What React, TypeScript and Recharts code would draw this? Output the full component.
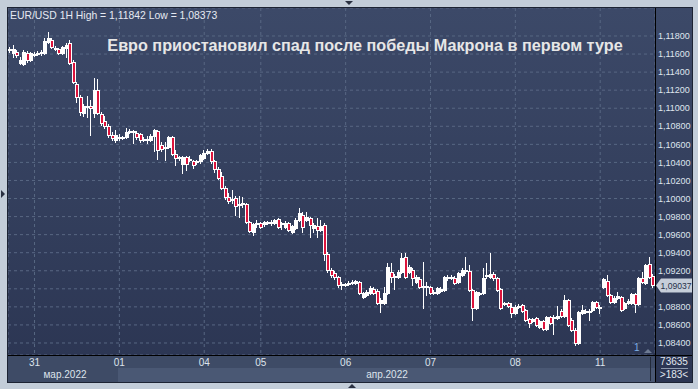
import React from 'react';
import { ComposedChart, Bar, XAxis, YAxis, CartesianGrid, ReferenceLine } from 'recharts';

// EUR/USD 1H candles
const opens = [
  1.1165, 1.1161, 1.1162, 1.1150, 1.1149, 1.1161, 1.1153, 1.1159, 1.1160, 1.1161,
  1.1161, 1.1173, 1.1176, 1.1167, 1.1166, 1.1161, 1.1167, 1.1172, 1.1151, 1.1127,
  1.1112, 1.1095, 1.1101, 1.1103, 1.1095, 1.1120, 1.1094, 1.1086, 1.1080, 1.1070,
  1.1065, 1.1067, 1.1067, 1.1068, 1.1074, 1.1075, 1.1073, 1.1072, 1.1066, 1.1065,
  1.1065, 1.1069, 1.1075, 1.1059, 1.1056, 1.1057, 1.1068, 1.1049, 1.1045, 1.1038,
  1.1046, 1.1043, 1.1042, 1.1041, 1.1041, 1.1045, 1.1050, 1.1053, 1.1041, 1.1033,
  1.1025, 1.1012, 1.1002, 1.0998, 1.1001, 1.0993, 1.0994, 1.0994, 1.0974, 1.0963,
  1.0972, 1.0973, 1.0972, 1.0974, 1.0973, 1.0973, 1.0977, 1.0972, 1.0969, 1.0973,
  1.0963, 1.0967, 1.0976, 1.0982, 1.0976, 1.0978, 1.0967, 1.0970, 1.0965, 1.0971,
  1.0939, 1.0921, 1.0918, 1.0913, 1.0904, 1.0905, 1.0905, 1.0906, 1.0906, 1.0908,
  1.0891, 1.0893, 1.0895, 1.0900, 1.0898, 1.0884, 1.0884, 1.0895, 1.0919, 1.0913,
  1.0913, 1.0919, 1.0935, 1.0919, 1.0921, 1.0908, 1.0911, 1.0902, 1.0903, 1.0902,
  1.0895, 1.0895, 1.0898, 1.0899, 1.0912, 1.0912, 1.0912, 1.0908, 1.0915, 1.0920,
  1.0920, 1.0899, 1.0879, 1.0895, 1.0895, 1.0914, 1.0913, 1.0916, 1.0912, 1.0900,
  1.0883, 1.0884, 1.0880, 1.0873, 1.0881, 1.0882, 1.0877, 1.0867, 1.0864, 1.0868,
  1.0858, 1.0864, 1.0856, 1.0869, 1.0868, 1.0868, 1.0875, 1.0870, 1.0888, 1.0866,
  1.0854, 1.0840, 1.0873, 1.0875, 1.0874, 1.0877, 1.0885, 1.0879, 1.0902, 1.0909,
  1.0893, 1.0885, 1.0890, 1.0891, 1.0879, 1.0884, 1.0884, 1.0894, 1.0883, 1.0912,
  1.0906, 1.0928, 1.0914,
];
const highs = [
  1.1168, 1.1170, 1.1165, 1.1157, 1.1165, 1.1163, 1.1162, 1.1162, 1.1163, 1.1165,
  1.1178, 1.11842, 1.1178, 1.1169, 1.1167, 1.1169, 1.1172, 1.1176, 1.1153, 1.1129,
  1.1115, 1.1105, 1.1114, 1.1109, 1.1134, 1.1132, 1.1096, 1.1091, 1.1083, 1.1074,
  1.1076, 1.1072, 1.1069, 1.1078, 1.1077, 1.1076, 1.1075, 1.1073, 1.1068, 1.1069,
  1.1072, 1.1077, 1.1076, 1.1063, 1.1063, 1.1069, 1.1069, 1.1054, 1.1047, 1.1047,
  1.1047, 1.1047, 1.1043, 1.1043, 1.1049, 1.1054, 1.1055, 1.1055, 1.1043, 1.1035,
  1.1029, 1.1014, 1.1006, 1.1009, 1.1003, 1.1003, 1.1002, 1.0995, 1.0975, 1.0973,
  1.0976, 1.0974, 1.0975, 1.0975, 1.0976, 1.0977, 1.0978, 1.0974, 1.0975, 1.0974,
  1.0971, 1.0978, 1.0990, 1.0985, 1.0985, 1.0980, 1.0973, 1.0978, 1.0976, 1.0973,
  1.0941, 1.0923, 1.0920, 1.0914, 1.0908, 1.0906, 1.0909, 1.0910, 1.0910, 1.0909,
  1.0897, 1.0899, 1.0903, 1.0902, 1.0900, 1.0890, 1.0902, 1.0929, 1.0929, 1.0916,
  1.0921, 1.0940, 1.0940, 1.0926, 1.0923, 1.0915, 1.0913, 1.0930, 1.0908, 1.0903,
  1.0899, 1.0902, 1.0902, 1.0914, 1.0915, 1.0915, 1.0914, 1.0919, 1.0923, 1.0935,
  1.0926, 1.0900, 1.0898, 1.0897, 1.0923, 1.0929, 1.0940, 1.0919, 1.0913, 1.0901,
  1.0885, 1.0885, 1.0884, 1.0882, 1.0883, 1.0883, 1.0878, 1.0868, 1.0868, 1.0869,
  1.0866, 1.0866, 1.0870, 1.0870, 1.0871, 1.0881, 1.0878, 1.0893, 1.0889, 1.0868,
  1.0857, 1.0875, 1.0882, 1.0878, 1.0878, 1.0886, 1.0886, 1.0882, 1.0912, 1.0915,
  1.0894, 1.0892, 1.0897, 1.0892, 1.0885, 1.0889, 1.0895, 1.0895, 1.0913, 1.0919,
  1.0928, 1.0935, 1.0916,
];
const lows = [
  1.1162, 1.1157, 1.1157, 1.1149, 1.1148, 1.1151, 1.1152, 1.1158, 1.1159, 1.1159,
  1.1160, 1.1172, 1.1167, 1.1165, 1.1160, 1.1160, 1.1157, 1.1149, 1.1128, 1.1107,
  1.1093, 1.1091, 1.1090, 1.1070, 1.1090, 1.1094, 1.1081, 1.1078, 1.1068, 1.1065,
  1.1063, 1.1065, 1.1066, 1.1067, 1.1073, 1.1062, 1.1066, 1.1063, 1.1064, 1.1062,
  1.1064, 1.1053, 1.1044, 1.1053, 1.1043, 1.1056, 1.1048, 1.1037, 1.1043, 1.1028,
  1.1032, 1.1041, 1.1034, 1.1038, 1.1039, 1.1044, 1.1049, 1.1039, 1.1029, 1.1022,
  1.1011, 1.1000, 1.0995, 1.0995, 1.0982, 1.0980, 1.0991, 1.0973, 1.0963, 1.0960,
  1.0969, 1.0967, 1.0970, 1.0972, 1.0971, 1.0972, 1.0967, 1.0966, 1.0967, 1.0964,
  1.0962, 1.0966, 1.0975, 1.0963, 1.0975, 1.0957, 1.0963, 1.0957, 1.0964, 1.0932,
  1.0919, 1.0913, 1.0911, 1.0902, 1.0900, 1.0903, 1.0904, 1.0905, 1.0905, 1.0894,
  1.0890, 1.0892, 1.0894, 1.0894, 1.0883, 1.0874, 1.0883, 1.0894, 1.0908, 1.0900,
  1.0912, 1.0918, 1.0912, 1.0918, 1.0904, 1.0906, 1.0901, 1.0879, 1.0893, 1.0894,
  1.0894, 1.0894, 1.0897, 1.0898, 1.0910, 1.0911, 1.0905, 1.0906, 1.0914, 1.0918,
  1.0898, 1.0866, 1.0878, 1.0893, 1.0894, 1.0912, 1.0912, 1.0910, 1.0898, 1.0878,
  1.0882, 1.0880, 1.0869, 1.0872, 1.0879, 1.0874, 1.0864, 1.0858, 1.0863, 1.0859,
  1.0857, 1.0854, 1.0854, 1.0861, 1.0850, 1.0867, 1.0869, 1.0869, 1.0859, 1.0853,
  1.08373, 1.0839, 1.0872, 1.0873, 1.0866, 1.0875, 1.0879, 1.0873, 1.0901, 1.0892,
  1.0884, 1.0884, 1.0889, 1.0875, 1.0878, 1.0883, 1.0883, 1.0874, 1.0882, 1.0906,
  1.0905, 1.0912, 1.0902,
];
const closes = [
  1.1166, 1.1166, 1.1159, 1.1153, 1.1162, 1.1153, 1.1161, 1.1160, 1.1161, 1.1162,
  1.1174, 1.1178, 1.1168, 1.1166, 1.1161, 1.1168, 1.1170, 1.1150, 1.1129, 1.1112,
  1.1096, 1.1103, 1.1103, 1.1100, 1.1120, 1.1095, 1.1084, 1.1080, 1.1070, 1.1067,
  1.1070, 1.1068, 1.1068, 1.1074, 1.1075, 1.1074, 1.1068, 1.1065, 1.1065, 1.1066,
  1.1069, 1.1076, 1.1054, 1.1055, 1.1057, 1.1068, 1.1049, 1.1045, 1.1046, 1.1046,
  1.1038, 1.1044, 1.1037, 1.1042, 1.1048, 1.1050, 1.1053, 1.1041, 1.1033, 1.1023,
  1.1012, 1.1002, 1.0997, 1.1000, 1.0992, 1.0994, 1.0995, 1.0974, 1.0964, 1.0972,
  1.0973, 1.0969, 1.0974, 1.0973, 1.0974, 1.0976, 1.0969, 1.0973, 1.0973, 1.0965,
  1.0970, 1.0976, 1.0984, 1.0969, 1.0980, 1.0971, 1.0971, 1.0965, 1.0970, 1.0939,
  1.0921, 1.0915, 1.0913, 1.0904, 1.0905, 1.0904, 1.0906, 1.0908, 1.0909, 1.0895,
  1.0895, 1.0897, 1.0901, 1.0895, 1.0884, 1.0888, 1.0895, 1.0924, 1.0913, 1.0914,
  1.0919, 1.0934, 1.0913, 1.0924, 1.0912, 1.0913, 1.0902, 1.0903, 1.0902, 1.0895,
  1.0897, 1.0901, 1.0900, 1.0913, 1.0913, 1.0913, 1.0906, 1.0918, 1.0921, 1.0921,
  1.0899, 1.0879, 1.0897, 1.0894, 1.0912, 1.0915, 1.0916, 1.0912, 1.0899, 1.0879,
  1.0884, 1.0881, 1.0873, 1.0880, 1.0880, 1.0875, 1.0866, 1.0862, 1.0867, 1.0860,
  1.0864, 1.0856, 1.0869, 1.0862, 1.0869, 1.0870, 1.0870, 1.0888, 1.0860, 1.0854,
  1.0840, 1.0874, 1.0877, 1.0874, 1.0875, 1.0885, 1.0880, 1.0880, 1.0911, 1.0893,
  1.0885, 1.0890, 1.0892, 1.0877, 1.0884, 1.0887, 1.0894, 1.0883, 1.0912, 1.0908,
  1.0926, 1.0913, 1.09037,
];

const dayTicks = [7, 31, 55, 71, 95, 119, 143, 167];
const dayLabels = ['31', '01', '04', '05', '06', '07', '08', '11'];
const monthLabels = ['мар.2022', 'апр.2022'];
const priceTicks = [
  1.084, 1.086, 1.088, 1.09, 1.092, 1.094, 1.096, 1.098, 1.1,
  1.102, 1.104, 1.106, 1.108, 1.11, 1.112, 1.114, 1.116, 1.118,
];

const data = opens.map((o, i) => ({
  idx: i,
  o,
  h: highs[i],
  l: lows[i],
  c: closes[i],
  range: [lows[i], highs[i]],
}));

const lastClose = closes[closes.length - 1];
const fmt = (v: number) => v.toFixed(5).replace('.', ',');
// the 1,09000 label sits under the last-price tag
const fmtTick = (v: number) => (Math.abs(v - lastClose) < 0.0008 ? '' : fmt(v));
const FONT = '"Liberation Sans", Arial, sans-serif';
const RED = '#dc143c';

const Candle = (props: any) => {
  const { x, y, width, height, payload } = props;
  if (x == null || !payload) return null;
  const { o, h, l, c } = payload;
  const top = Math.min(y, y + height);
  const span = Math.abs(height);
  const py = (p: number) => (h === l ? top : top + ((h - p) / (h - l)) * span);
  const cx = Math.round(x + width / 2);
  const up = c >= o;
  const bTop = Math.round(py(Math.max(o, c)));
  const bBot = Math.round(py(Math.min(o, c)));
  return (
    <g>
      <line x1={cx - 0.5} x2={cx - 0.5} y1={Math.round(top)} y2={Math.round(top + span) + 1} stroke="#ffffff" />
      <rect
        x={cx - 1.5}
        y={bTop + 0.5}
        width={3}
        height={Math.max(bBot - bTop, 1)}
        fill={up ? '#ffffff' : RED}
        stroke="#ffffff"
      />
    </g>
  );
};

const PriceTag = (props: any) => {
  const vb = props.viewBox;
  if (!vb) return null;
  const x0 = vb.x + vb.width + 1;
  const y0 = Math.round(vb.y) + 0.5;
  return (
    <g>
      <polygon
        points={`${x0},${y0} ${x0 + 5},${y0 - 7} ${x0 + 36},${y0 - 7} ${x0 + 36},${y0 + 7} ${x0 + 5},${y0 + 7}`}
        fill="#c6ceda"
      />
      <text x={x0 + 4.5} y={y0 + 3.2} fontSize={8.6} fill="#26314a" fontFamily={FONT}>
        {fmt(lastClose)}
      </text>
    </g>
  );
};

export default function App() {
  return (
    <div
      style={{
        position: 'fixed',
        left: 0,
        top: 0,
        width: 698,
        height: 389,
        background: '#c3cdd9',
        overflow: 'hidden',
        fontFamily: FONT,
      }}
    >
      <div
        style={{
          position: 'absolute',
          left: 7,
          top: 7,
          width: 686,
          height: 376,
          border: '1px solid #1c2333',
          boxSizing: 'border-box',
          background: 'linear-gradient(#3c4968, #2b3552)',
        }}
      />
      {/* time axis band */}
      <div style={{ position: 'absolute', left: 8, top: 355, width: 647, height: 13, background: '#3e4b66' }} />
      <div style={{ position: 'absolute', left: 8, top: 368, width: 110, height: 14, background: '#3e4b66' }} />
      <div style={{ position: 'absolute', left: 118, top: 368, width: 537, height: 14, background: '#4a5874' }} />
      <div style={{ position: 'absolute', left: 8, top: 368, width: 114, textAlign: 'center', fontSize: 10, lineHeight: '13px', color: '#dde3ec' }}>
        {monthLabels[0]}
      </div>
      <div style={{ position: 'absolute', left: 337, top: 368, width: 100, textAlign: 'center', fontSize: 10, lineHeight: '13px', color: '#dde3ec' }}>
        {monthLabels[1]}
      </div>
      <div style={{ position: 'absolute', left: 650, top: 357, width: 1, height: 24, background: '#222a3a' }} />

      <div style={{ position: 'absolute', left: 8, top: 8 }}>
        <ComposedChart
          width={684}
          height={374}
          data={data}
          margin={{ top: 0, right: 0, bottom: 0, left: 0 }}
          barCategoryGap={0}
          barGap={0}
        >
          <CartesianGrid stroke="#586783" strokeDasharray="3 3" />
          <XAxis
            dataKey="idx"
            type="category"
            ticks={dayTicks}
            tickFormatter={(v: number) => dayLabels[dayTicks.indexOf(v)] ?? ''}
            height={27}
            axisLine={false}
            tickLine={false}
            tickSize={0}
            tickMargin={4}
            tick={{ fontSize: 10, fill: '#dde3ec', fontFamily: FONT }}
            interval={0}
          />
          <YAxis
            orientation="right"
            type="number"
            domain={[1.08267, 1.1211]}
            ticks={priceTicks}
            allowDataOverflow
            width={37}
            axisLine={false}
            tickLine={false}
            tickSize={0}
            tickMargin={3}
            interval={0}
            tickFormatter={fmtTick}
            tick={{ fontSize: 9, fill: '#dfe5ee', fontFamily: FONT }}
          />
          <Bar dataKey="range" shape={<Candle />} isAnimationActive={false} />
          <ReferenceLine y={lastClose} stroke="none" label={<PriceTag />} />
        </ComposedChart>
      </div>

      {/* frame lines */}
      <div style={{ position: 'absolute', left: 655, top: 8, width: 1, height: 374, background: '#000' }} />
      <div style={{ position: 'absolute', left: 8, top: 355, width: 684, height: 1, background: '#000' }} />

      <div style={{ position: 'absolute', left: 10, top: 9, fontSize: 10.4, lineHeight: '13px', color: '#e6eaf2', whiteSpace: 'nowrap' }}>
        EUR/USD 1H High = 1,11842 Low = 1,08373
      </div>
      <div
        style={{
          position: 'absolute',
          left: 90,
          top: 36,
          width: 550,
          textAlign: 'center',
          fontSize: 16.2,
          fontWeight: 'bold',
          lineHeight: '18px',
          color: '#e6e6e6',
          whiteSpace: 'nowrap',
        }}
      >
        Евро приостановил спад после победы Макрона в первом туре
      </div>

      <div style={{ position: 'absolute', left: 634, top: 342, fontSize: 10, lineHeight: '12px', color: '#7fb0e6' }}>1</div>
      <div style={{ position: 'absolute', left: 656, top: 356, width: 36, textAlign: 'center', fontSize: 10, lineHeight: '12px', color: '#e0e6ee' }}>
        73635
      </div>
      <div style={{ position: 'absolute', left: 661, top: 368, width: 27, height: 1, background: '#8d99ad' }} />
      <div style={{ position: 'absolute', left: 656, top: 369, width: 36, textAlign: 'center', fontSize: 10, lineHeight: '12px', color: '#e0e6ee' }}>
        &gt;183&lt;
      </div>

      <svg width={698} height={389} style={{ position: 'absolute', left: 0, top: 0, pointerEvents: 'none' }}>
        <polygon points="644,353 648,349 652,353" fill="#6d7a92" />
        <polygon points="345,1 353,1 349,5" fill="#2a3142" />
        <polygon points="1,190 5,194 1,198" fill="#2a3142" />
        <polygon points="348,388 352,384 356,388" fill="#2a3142" />
      </svg>
    </div>
  );
}
